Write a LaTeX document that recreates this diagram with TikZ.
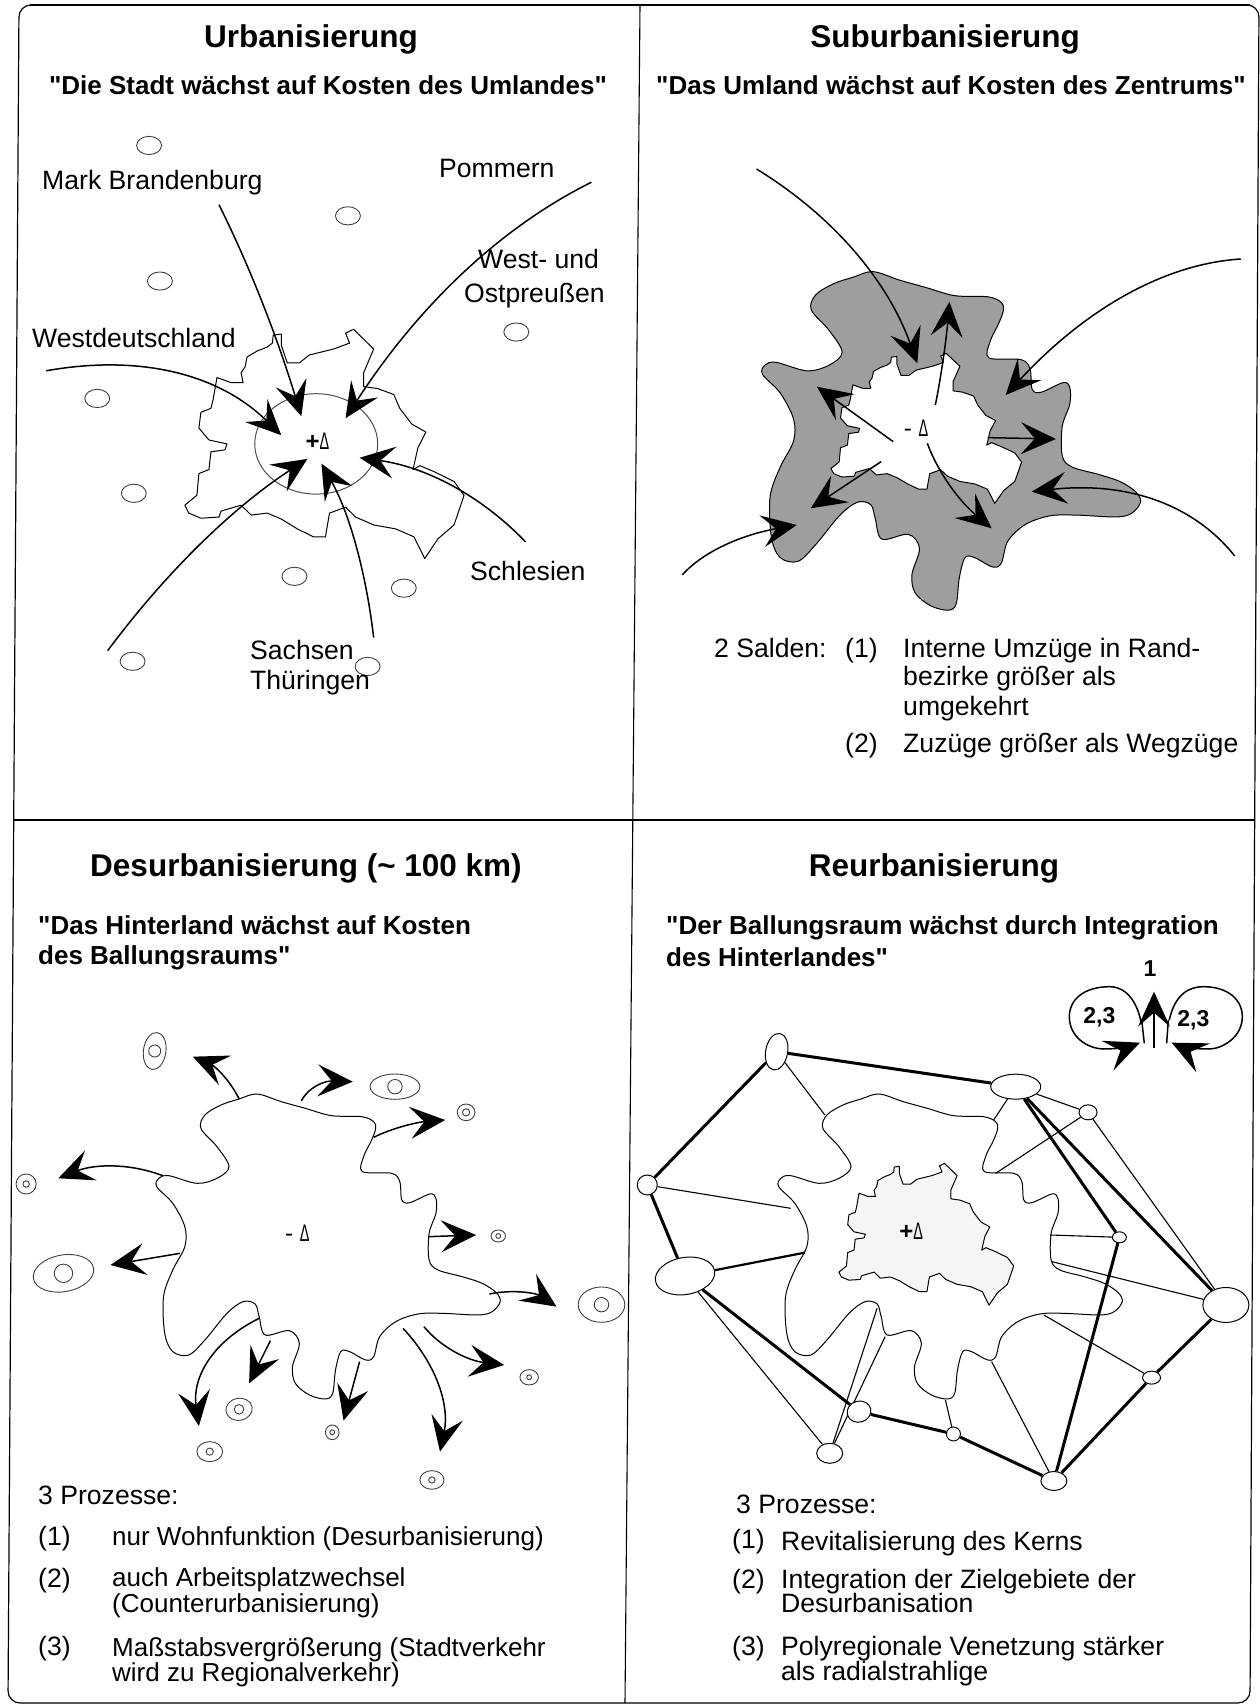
\documentclass[tikz,border=0pt]{standalone}
\usepackage{fontspec}
\usepackage{graphicx}
\setmainfont[Ligatures=TeXOff]{Liberation Sans}
\usetikzlibrary{arrows.meta,shapes.geometric,backgrounds}
\newcommand{\thindelta}{\scalebox{.6}[1]{Δ}}
% outlines, given in the units of the zoomed map
\newcommand{\blobline}{plot[smooth cycle,tension=.55] coordinates {(595,297)(640,282)(700,305)(760,325)(825,347)(900,350)(930,365)(935,385)(925,420)(905,470)(902,515)(975,520)(995,545)(1000,600)(1020,608)(1070,582)(1085,595)(1085,640)(1068,700)(1068,780)(1090,810)(1150,830)(1200,850)(1235,878)(1245,905)(1225,935)(1190,945)(1100,940)(1040,942)(985,965)(945,1010)(930,1070)(910,1080)(870,1055)(848,1055)(835,1110)(828,1180)(810,1197)(770,1185)(735,1150)(728,1100)(745,1030)(720,992)(660,1005)(645,950)(635,912)(605,905)(565,940)(510,1020)(470,1065)(430,1055)(410,1000)(407,890)(430,810)(460,740)(460,680)(430,610)(390,560)(395,535)(420,527)(490,550)(540,535)(570,500)(540,440)(500,385)(510,345)(550,315)}}
\newcommand{\cityline}{(700,592)--(680,595)--(678,615)--(665,625)--(640,635)--(615,650)--(610,675)--(600,690)--(605,715)--(575,715)--(540,702)--(530,760)--(525,780)--(500,790)--(495,830)--(520,860)--(565,870)--(560,885)--(525,890)--(520,935)--(495,945)--(490,1000)--(460,1025)--(470,1045)--(500,1058)--(545,1055)--(550,1040)--(600,1025)--(625,1050)--(665,1045)--(700,1060)--(740,1085)--(780,1105)--(810,1105)--(820,1045)--(860,1030)--(885,1055)--(930,1075)--(985,1085)--(1030,1105)--(1040,1125)--(1057,1160)--(1090,1110)--(1130,1075)--(1145,1030)--(1155,1000)--(1130,965)--(1080,940)--(1045,925)--(1028,935)--(1040,880)--(1060,840)--(1025,820)--(995,780)--(980,745)--(940,730)--(905,725)--(905,690)--(930,630)--(880,580)--(860,590)--(870,615)--(830,630)--(770,645)--(745,665)--(715,665)--(700,620)--cycle}
\tikzset{
  flow/.style={line width=1.5pt,-{Stealth[length=35pt,width=32pt,inset=14pt]}},
  outline/.style={line width=1pt,line join=round},
  place/.style={line width=.9pt,black!75},
  heading/.style={font=\bfseries\fontsize{31.5}{36}\selectfont,yshift=-3pt},
  quoteline/.style={font=\bfseries\fontsize{26}{30}\selectfont},
  quoteleft/.style={quoteline,anchor=mid west,inner sep=0pt,yshift=-6pt},
  txt/.style={font=\fontsize{26.6}{30}\selectfont,inner sep=0pt},
  leftline/.style={txt,anchor=mid west,yshift=-6pt},
  leftnarrow/.style={leftline,font=\fontsize{26}{30}\selectfont},
  deltamark/.style={inner sep=0pt,font=\fontsize{24}{28}\selectfont},
  loopmark/.style={font=\bfseries\fontsize{23}{26}\selectfont},
  hub/.style={ellipse,draw,fill=white,line width=1pt,inner sep=0pt},
  strong/.style={line width=3pt},
  weak/.style={line width=1.1pt}
}
\begin{document}
\begin{tikzpicture}[x=1pt,y=-1pt]
\useasboundingbox (0,0) rectangle (1260,1708);
% frame
\draw[line width=1.2pt,rounded corners=12pt] (19,5)--(1259,5)--(1250,1703)--(8,1703)--cycle;
\draw[line width=2.5pt] (30,5)--(1250,5);
\draw[line width=1.6pt] (13,820)--(1255,820);
\draw[line width=1.1pt] (640,5)--(625,1703);
% headings
\node[heading] (urbT) at (311,36) {Urbanisierung};
\node[heading] (subT) at (945,36) {Suburbanisierung};
\node[heading] (desT) at (306,865) {Desurbanisierung (\textasciitilde{} 100 km)};
\node[heading] (reuT) at (934,865) {Reurbanisierung};
\node[quoteline] (urbQ) at (328,85) {"Die Stadt wächst auf Kosten des Umlandes"};
\node[quoteline] (subQ) at (951,85) {"Das Umland wächst auf Kosten des Zentrums"};
\node[quoteleft] (desQa) at (38,926) {"Das Hinterland wächst auf Kosten};
\node[quoteleft] (desQb) at (38,956) {des Ballungsraums"};
\node[quoteleft] (reuQa) at (666,926) {"Der Ballungsraum wächst durch Integration};
\node[quoteleft] (reuQb) at (666,958) {des Hinterlandes"};

% top left
\begin{scope}[shift={(0,100)},x=.4018pt,y=-.3953pt]
\draw[outline] \cityline;
\draw[outline,black!70] (787,870) ellipse [x radius=153,y radius=127];
\foreach \cx/\cy in {371/115,866/293,398/458,1285/587,242/755,333/995,733/1205,1005/1235,330/1420,915/1433}
  \draw[place] (\cx,\cy) ellipse [x radius=31,y radius=23];
\draw[flow] (545,265) .. controls (622,422) and (690,600) .. (750,800);
\draw[flow] (1472,208) .. controls (1244,323) and (1040,522) .. (860,805);
\draw[flow] (115,685) .. controls (352,642) and (547,695) .. (700,848);
\draw[flow] (268,1393) .. controls (416,1191) and (582,1029) .. (765,908);
\draw[flow] (930,1360) .. controls (910,1187) and (867,1040) .. (800,920);
\draw[flow] (1308,1118) .. controls (1196,999) and (1058,928) .. (895,905);
\node[deltamark] (urbD) at (790,862) {\textbf{+}\thindelta};
\end{scope}
\node[leftline] (lMark) at (42,181) {Mark Brandenburg};
\node[leftline] (lPom) at (439,169) {Pommern};
\node[leftline] (lWest) at (478,260) {West- und};
\node[leftline] (lOst) at (464,294) {Ostpreußen};
\node[leftline] (lWdt) at (32,339) {Westdeutschland};
\node[leftline] (lSchl) at (470,572) {Schlesien};
\node[leftline] (lSach) at (250,651) {Sachsen};
\node[leftline] (lThue) at (250,681) {Thüringen};

% top right
\begin{scope}[shift={(590.2,167.3)},x=.442pt,y=-.37pt]
\draw[line width=1pt,fill=black!38] \blobline;
\end{scope}
\begin{scope}[shift={(704.7,203.3)},x=.2744pt,y=-.2587pt]
\draw[outline,fill=white] \cityline;
\end{scope}
\begin{scope}[shift={(630,140)},x=.4018pt,y=-.3333pt]
\draw[flow] (315,87) .. controls (508,230) and (642,424) .. (715,670);
\draw[flow] (1520,357) .. controls (1328,372) and (1133,508) .. (935,765);
\draw[flow] (1505,1248) .. controls (1400,1089) and (1232,1024) .. (1000,1055);
\draw[flow] (130,1305) .. controls (182,1235) and (277,1185) .. (415,1155);
\draw[flow] (760,795) .. controls (777,692) and (788,588) .. (795,485);
\draw[flow] (655,905) -- (465,740);
\draw[flow] (890,893) -- (1060,897);
\draw[flow] (625,965) -- (450,1105);
\draw[flow] (740,910) .. controls (767,999) and (820,1084) .. (900,1165);
\node[deltamark] (subD) at (712,865) {- \thindelta};
\end{scope}
\node[leftline] (sSald) at (714,649) {2 Salden:};
\foreach \y/\nm/\lab in {649/a/Interne Umzüge in Rand-,677/b/bezirke größer als,707/c/umgekehrt,744/d/Zuzüge größer als Wegzüge}
  \node[leftline] (s\nm) at (903,\y) {\lab};
\node[leftline] (sOne) at (845,649) {(1)};
\node[leftline] (sTwo) at (845,744) {(2)};

% bottom left
\begin{scope}[shift={(0,1000)},x=.4018pt,y=-.3333pt]
\draw[outline] \blobline;
\foreach \cx/\cy/\rx/\ry/\rr/\ang in {385/153/28/56/15/-8,983/260/62/38/18/0,1160/337/22/25/9/0,65/552/25/30/8/0,1240/708/18/18/6/0,158/820/76/55/23/10,1497/914/58/53/18/0,1317/1132/23/23/6/0,1075/1440/30/28/8/0,827/1297/17/22/6/0,595/1228/33/33/12/10,522/1355/32/30/9/0}{
  \draw[place,shift={(\cx,\cy)},rotate=\ang] (0,0) ellipse [x radius=\rx,y radius=\ry];
  \draw[place] (\cx,\cy) ellipse [x radius=\rr,y radius=1.2*\rr];}
\draw[flow] (595,297) .. controls (572,239) and (533,197) .. (480,170);
\draw[flow] (750,303) .. controls (767,261) and (809,242) .. (878,245);
\draw[flow] (930,412) .. controls (977,384) and (1036,367) .. (1108,360);
\draw[flow] (405,527) .. controls (322,489) and (235,492) .. (145,535);
\draw[flow] (448,760) -- (275,795);
\draw[flow] (1068,710) -- (1185,705);
\draw[flow] (1218,882) .. controls (1279,867) and (1335,880) .. (1385,920);
\draw[flow] (1055,980) .. controls (1098,1043) and (1165,1082) .. (1255,1095);
\draw[flow] (1003,985) .. controls (1088,1095) and (1119,1218) .. (1095,1355);
\draw[flow] (895,1085) -- (855,1262);
\draw[flow] (673,1022) -- (620,1150);
\draw[flow] (645,955) .. controls (528,1025) and (478,1133) .. (495,1278);
\node[deltamark] (desD) at (740,700) {- \thindelta};
\end{scope}
\node[leftline] (dHead) at (38,1496) {3 Prozesse:};
\foreach \y/\nm in {1537/1,1579/2,1647/3}
  \node[leftline] (dn\nm) at (38,\y) {(\nm)};
\foreach \y/\nm/\lab in {1537/a/nur Wohnfunktion (Desurbanisierung),1578/b/auch Arbeitsplatzwechsel,1604/c/(Counterurbanisierung),1648/d/Maßstabsvergrößerung (Stadtverkehr,1673/e/wird zu Regionalverkehr)}
  \node[leftnarrow] (d\nm) at (112,\y) {\lab};

% bottom right
\begin{scope}[shift={(622,1000)},x=.4018pt,y=-.3333pt]
\draw[outline] \blobline;
\end{scope}
\begin{scope}[shift={(723.2,1021.7)},x=.2515pt,y=-.2443pt]
\draw[outline,fill=black!4] \cityline;
\end{scope}
\begin{scope}[shift={(630,1000)},x=.4018pt,y=-.3333pt]
\foreach \nm/\cx/\cy/\ww/\hh/\ang in {na/365/155/22/37/-10,nb/960/260/50/25/0,nc/1140/337/18/15/0,nd/1218/712/14/11/0,ne/1483/915/46/35/0,nf/1298/1133/18/13/0,ng/1055/1443/26/19/0,nh/805/1302/14/14/0,ni/570/1235/24/21/15,nj/497/1360/26/20/0,nk/137/828/60/37/10,nl/43/555/20/20/0}
  \node[hub,minimum width=\ww pt,minimum height=\hh pt,rotate=\ang] (\nm) at (\cx,\cy) {};
\foreach \nm/\cx/\cy in {pa/485/345,pb/905/360,pc/910/520,pd/1045/705,pe/1050/785,pf/1030/945,pg/900/1085,ph/785/1200,pl/400/625,pk/435/758,pj/615/925,pi/635/1010}
  \coordinate (\nm) at (\cx,\cy);
\begin{scope}[on background layer]
\foreach \a/\b in {na/nb,na/nl,nl/nk,nk/ni,ni/nh,nh/ng,ng/nf,nf/ne,nb/ne,nb/nd,nd/ng}
  \draw[strong] (\a) -- (\b);
\foreach \a/\b in {na/pa,nb/pb,nb/nc,nc/pc,nc/ne,nd/pd,ne/pe,nf/pf,ng/pg,nh/ph,nl/pl,nk/nj,nj/pj,nj/pi}
  \draw[weak] (\a) -- (\b);
\draw[line width=2.2pt] (nk) -- (pk);
\end{scope}
\node[deltamark] (reuD) at (700,695) {\textbf{+}\thindelta};
\end{scope}
% small loops
\begin{scope}[shift={(1040,950)},x=.3333pt,y=-.3333pt]
\draw[flow] (303,215) .. controls (285,130) and (240,110) .. (210,110) .. controls (130,110) and (88,150) .. (88,200) .. controls (88,260) and (140,295) .. (190,297) .. controls (230,297) and (270,290) .. (300,278);
\draw[flow] (388,210) .. controls (405,130) and (450,110) .. (490,110) .. controls (565,110) and (607,150) .. (607,200) .. controls (607,260) and (550,295) .. (510,297) .. controls (460,297) and (420,290) .. (395,278);
\draw[flow] (342,295) -- (342,125);
\draw[line width=1.5pt] (313,280) -- (305,210);
\draw[line width=1.5pt] (380,280) -- (385,210);
\node[loopmark] (inOne) at (330,55) {1};
\node[loopmark] (inL) at (178,203) {2,3};
\node[loopmark] (inR) at (460,210) {2,3};
\end{scope}
\node[leftline] (rHead) at (736,1505) {3 Prozesse:};
\foreach \y/\nm in {1540/1,1580/2,1647/3}
  \node[leftline] (rn\nm) at (732,\y) {(\nm)};
\foreach \y/\nm/\lab in {1542/a/Revitalisierung des Kerns,1580/b/Integration der Zielgebiete der,1604/c/Desurbanisation,1647/d/Polyregionale Venetzung stärker,1672/e/als radialstrahlige}
  \node[leftline] (r\nm) at (781,\y) {\lab};
\end{tikzpicture}
\end{document}
